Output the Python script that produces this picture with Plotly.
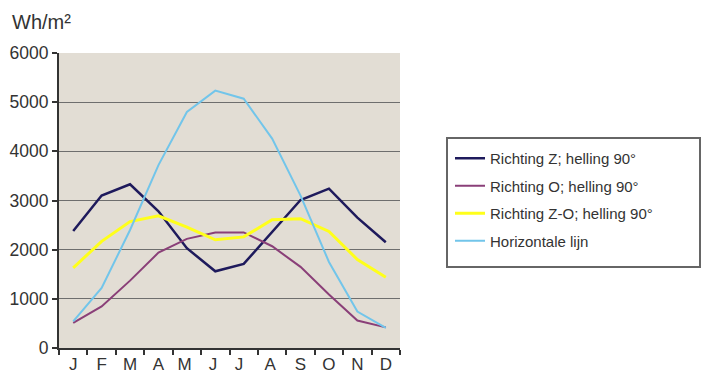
import plotly.graph_objects as go

months = ["J", "F", "M", "A", "M ", "J ", "J  ", "A ", "S", "O", "N", "D"]
richting_z = [2380, 3100, 3330, 2780, 2030, 1560, 1710, 2370, 3010, 3240, 2650, 2150]
richting_o = [510, 845, 1370, 1940, 2220, 2350, 2350, 2070, 1650, 1090, 560, 420]
richting_zo = [1630, 2170, 2570, 2690, 2460, 2200, 2260, 2610, 2630, 2370, 1800, 1440]
horizontaal = [540, 1220, 2400, 3720, 4800, 5235, 5070, 4260, 3100, 1750, 740, 410]
y_ticks = [0, 1000, 2000, 3000, 4000, 5000, 6000]

series = [
    ("Richting Z; helling 90°", richting_z, "#1e1a5c", 2.5),
    ("Richting O; helling 90°", richting_o, "#8a3f78", 2),
    ("Richting Z-O; helling 90°", richting_zo, "#ffff1a", 3),
    ("Horizontale lijn", horizontaal, "#72c5ea", 2),
]

fig = go.Figure()
for i, (name, vals, col, w) in enumerate(series):
    fig.add_trace(go.Scatter(x=months, y=vals, mode="lines", name=name,
                             legendgroup=f"g{i}",
                             line=dict(color=col, width=w)))

# page body has an 8px margin; figure is sized to fit the window
W, H = 707, 366
fig.update_layout(
    width=W, height=H,
    margin=dict(l=51, r=W - 392, t=45, b=H - 340, autoexpand=False),
    paper_bgcolor="white",
    plot_bgcolor="#e2ddd4",
    font=dict(family="Liberation Sans, Arial, sans-serif", color="#333333"),
    showlegend=True,
    legend=dict(x=(450 - 59) / 341, y=(348 - 142) / 295,
                xanchor="left", yanchor="top",
                font=dict(size=15, color="#333333"),
                bgcolor="rgba(0,0,0,0)", borderwidth=0,
                tracegroupgap=5, itemwidth=30),
    xaxis=dict(type="category", tickson="boundaries", ticks="outside",
               ticklen=5, tickwidth=2, tickcolor="#333333", tickangle=0,
               showline=True, linecolor="#333333", linewidth=2,
               showgrid=False, tickfont=dict(size=17, color="#333333"),
               range=[-0.5, 11.5], automargin=False),
    yaxis=dict(range=[0, 6000], tickvals=y_ticks, ticks="outside",
               ticklen=5, tickwidth=2, tickcolor="#333333",
               showline=True, linecolor="#333333", linewidth=2,
               showgrid=True, gridcolor="#6e6e6e", gridwidth=1,
               zeroline=False, tickfont=dict(size=17.5, color="#333333"),
               automargin=False),
    shapes=[dict(type="rect", xref="paper", yref="paper",
                 x0=(447 - 59) / 341, x1=(700 - 59) / 341,
                 y0=(348 - 267) / 295, y1=(348 - 138) / 295,
                 line=dict(color="#666666", width=2),
                 fillcolor="rgba(0,0,0,0)")],
    annotations=[dict(text="Wh/m²", xref="paper", yref="paper",
                      x=(10 - 59) / 341, y=(348 - 22) / 295,
                      xanchor="left", yanchor="middle", showarrow=False,
                      font=dict(size=20, color="#333333"))],
)

fig.write_html("out.html")
